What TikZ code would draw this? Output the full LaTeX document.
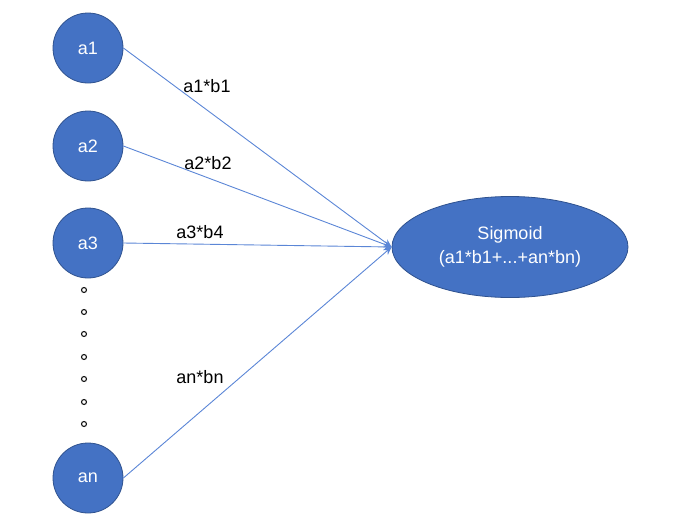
\documentclass[tikz,border=0pt]{standalone}
\usepackage{fontspec}
\setmainfont{Liberation Sans}
\usetikzlibrary{shapes.geometric,arrows.meta}
\definecolor{nodeblue}{HTML}{4472C4}
\definecolor{edgeblue}{HTML}{2F528F}
\definecolor{lineblue}{HTML}{5B86D6}
\begin{document}
\begin{tikzpicture}[x=1pt,y=-1pt,
  neuron/.style={circle,fill=nodeblue,draw=edgeblue,line width=0.8pt,minimum size=70pt,inner sep=0pt,text=white,font=\fontsize{18}{22}\selectfont},
  outnode/.style={ellipse,fill=nodeblue,draw=edgeblue,line width=0.8pt,minimum width=236pt,minimum height=101pt,inner sep=0pt,text=white,align=center,font=\fontsize{18}{24}\selectfont},
  conn/.style={draw=lineblue,line width=0.9pt,-{Stealth[length=8pt,width=7pt]}},
  wlabel/.style={font=\fontsize{18}{22}\selectfont,text=black,inner sep=0pt},
  smalldot/.style={circle,draw=black!90,fill=white,line width=1.1pt,minimum size=5pt,inner sep=0pt}
]
\useasboundingbox (0,0) rectangle (692,522);
\node[neuron] (a1) at (88,48) {a1};
\node[neuron] (a2) at (88,146) {a2};
\node[neuron] (a3) at (88,243) {a3};
\node[neuron] (an) at (88,478) {an};
\node[outnode] (s) at (510,247) {Sigmoid\\(a1*b1+...+an*bn)};
\coordinate (tip) at (s.west);
\draw[conn] (a1.east) -- (tip);
\draw[conn] (a2.east) -- (tip);
\draw[conn] (a3.east) -- (tip);
\draw[conn] (an.east) -- (tip);
\node[wlabel] (l1) at (207,86) {a1*b1};
\node[wlabel] (l2) at (208,163) {a2*b2};
\node[wlabel] (l3) at (200,232) {a3*b4};
\node[wlabel] (ln) at (200,377) {an*bn};
\foreach \i/\yy in {1/290,2/312,3/334,4/357,5/379,6/402,7/424}
  \node[smalldot] (d\i) at (84,\yy) {};
\end{tikzpicture}
\end{document}
